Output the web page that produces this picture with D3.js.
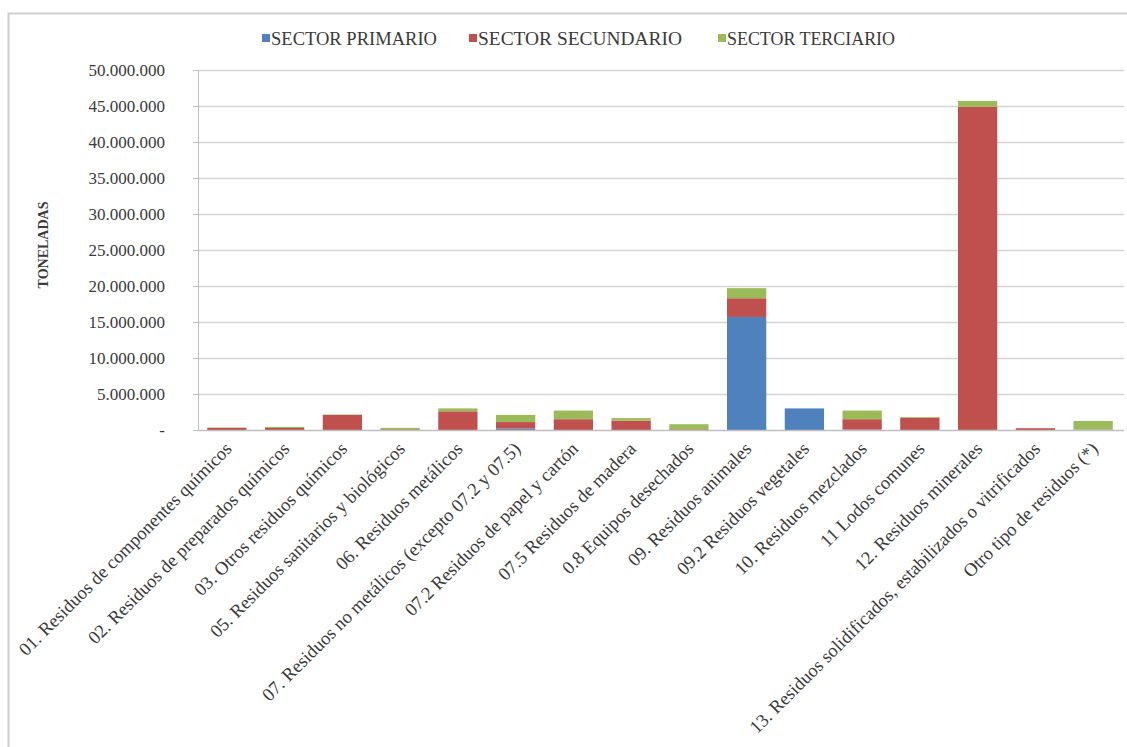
<!DOCTYPE html>
<html>
<head>
<meta charset="utf-8">
<script src="https://cdn.jsdelivr.net/npm/d3@7/dist/d3.min.js"></script>
<style>
  html, body { margin: 0; padding: 0; background: #fff; }
  svg { display: block; }
</style>
</head>
<body>
<script>
const categories = [
  "01. Residuos de componentes químicos",
  "02. Residuos de preparados químicos",
  "03. Otros residuos químicos",
  "05. Residuos sanitarios y biológicos",
  "06. Residuos metálicos",
  "07.  Residuos no metálicos (excepto 07.2 y 07.5)",
  "07.2 Residuos de papel y cartón",
  "07.5 Residuos de madera",
  "0.8 Equipos desechados",
  "09.  Residuos animales",
  "09.2 Residuos vegetales",
  "10.  Residuos mezclados",
  "11 Lodos comunes",
  "12. Residuos minerales",
  "13. Residuos solidificados, estabilizados o vitrificados",
  "Otro tipo de residuos (*)"
];
const seriesNames = ["SECTOR PRIMARIO", "SECTOR SECUNDARIO", "SECTOR TERCIARIO"];
const primario   = [0, 0, 0, 0, 0, 200000, 0, 0, 0, 15700000, 3000000, 50000, 0, 0, 0, 0];
const secundario = [300000, 280000, 2100000, 100000, 2600000, 900000, 1500000, 1300000, 100000, 2600000, 0, 1450000, 1700000, 44900000, 250000, 50000];
const terciario  = [50000, 150000, 50000, 200000, 400000, 1000000, 1200000, 350000, 700000, 1400000, 0, 1200000, 100000, 800000, 0, 1200000];
const yTicks = [0, 5000000, 10000000, 15000000, 20000000, 25000000, 30000000, 35000000, 40000000, 45000000, 50000000];
const colors = ["#4F81BD", "#C0504D", "#9BBB59"];

const FONT = "'Liberation Serif', 'Times New Roman', Times, serif";
const W = 1127, H = 747;
const svg = d3.select("body").append("svg").attr("width", W).attr("height", H)
  .attr("font-family", FONT);

// chart area frame
svg.append("rect").attr("x", 8.5).attr("y", 13.5).attr("width", W + 10).attr("height", H + 10)
  .attr("fill", "none").attr("stroke", "#cfcfcf").attr("stroke-width", 2);

const x = d3.scaleBand().domain(categories).range([198, 1122]).paddingInner(0.32).paddingOuter(0.16);
const y = d3.scaleLinear().domain([0, 50000000]).range([430, 70]);

const fmt = v => v === 0 ? "-" : d3.format(",")(v).replace(/,/g, ".");

// gridlines
svg.append("g").selectAll("line").data(yTicks.slice(1)).join("line")
  .attr("x1", 198).attr("x2", 1124)
  .attr("y1", d => Math.round(y(d)) + 0.5).attr("y2", d => Math.round(y(d)) + 0.5)
  .attr("stroke", "#d4d4d4").attr("stroke-width", 1.3);

// y axis
const yAxis = svg.append("g").attr("transform", "translate(198,0)")
  .call(d3.axisLeft(y).tickValues(yTicks).tickSize(5).tickFormat(fmt).tickPadding(28));
yAxis.attr("font-family", FONT);
yAxis.select(".domain").attr("stroke", "#bfbfbf");
yAxis.selectAll(".tick line").attr("stroke", "#bfbfbf");
yAxis.selectAll("text").attr("font-size", 17).attr("fill", "#3a3a3a").attr("font-family", FONT);

// stacked data
const table = categories.map((c, i) => ({ cat: c, p: primario[i], s: secundario[i], t: terciario[i] }));
const stack = d3.stack().keys(["p", "s", "t"])(table);

svg.append("g").selectAll("g").data(stack).join("g")
  .attr("fill", (d, i) => colors[i])
  .selectAll("rect").data(d => d).join("rect")
  .attr("x", d => x(d.data.cat))
  .attr("width", x.bandwidth())
  .attr("y", d => y(d[1]))
  .attr("height", d => Math.max(0, y(d[0]) - y(d[1])));

// x axis line
svg.append("line").attr("x1", 198).attr("x2", 1124).attr("y1", 430.5).attr("y2", 430.5)
  .attr("stroke", "#bfbfbf").attr("stroke-width", 1.3);

// x labels
svg.append("g").selectAll("text").data(categories).join("text")
  .attr("transform", d => `translate(${x(d) + x.bandwidth() / 2 + 6},${450}) rotate(-45)`)
  .attr("text-anchor", "end")
  .attr("font-family", FONT)
  .attr("font-size", 18.5)
  .attr("fill", "#3a3a3a")
  .text(d => d);

// y title
svg.append("text")
  .attr("transform", "translate(48,245) rotate(-90)")
  .attr("text-anchor", "middle")
  .attr("font-family", FONT)
  .attr("font-size", 14).attr("font-weight", "bold").attr("fill", "#3a3a3a")
  .text("TONELADAS");

// legend
const legendX = [262, 469, 718];
const legendW = [166, 204, 168];
const lg = svg.append("g").selectAll("g").data(seriesNames).join("g")
  .attr("transform", (d, i) => `translate(${legendX[i]},39)`);
lg.append("rect").attr("x", 0).attr("y", -5).attr("width", 8).attr("height", 8)
  .attr("fill", (d, i) => colors[i]);
lg.append("text").attr("x", 9).attr("y", 6).attr("font-family", FONT)
  .attr("font-size", 18).attr("fill", "#3a3a3a")
  .attr("textLength", (d, i) => legendW[i]).attr("lengthAdjust", "spacingAndGlyphs")
  .text(d => d);
</script>
</body>
</html>
